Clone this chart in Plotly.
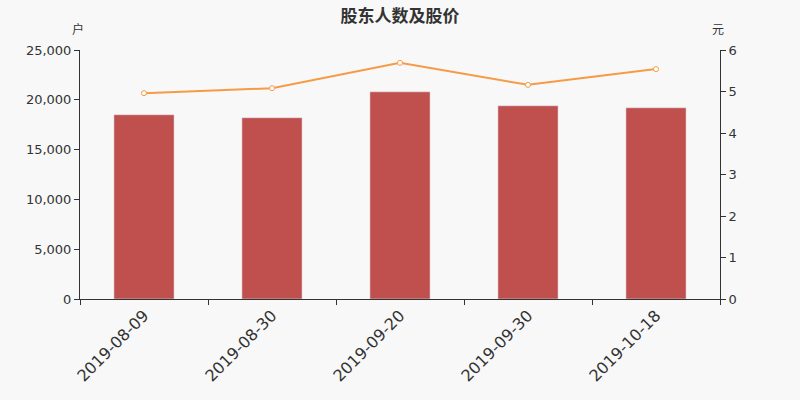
import plotly.graph_objects as go

dates = ["2019-08-09", "2019-08-30", "2019-09-20", "2019-09-30", "2019-10-18"]
holders = [18500, 18200, 20800, 19400, 19200]
price = [4.96, 5.08, 5.69, 5.16, 5.54]

FONT = "DejaVu Sans, Noto Sans CJK SC, sans-serif"
BG = "#f8f8f8"

fig = go.Figure()
fig.add_trace(go.Bar(x=dates, y=holders, marker_color="#c0504d", width=0.47,
                     name="股东人数", yaxis="y"))
fig.add_trace(go.Scatter(x=dates, y=price, mode="lines+markers", name="股价", yaxis="y2",
                         line=dict(color="#f79a45", width=2),
                         marker=dict(symbol="circle", size=5, color="white",
                                     line=dict(color="#f79a45", width=1))))

fig.update_layout(
    width=800, height=400,
    paper_bgcolor=BG, plot_bgcolor=BG,
    margin=dict(l=80, r=80, t=50, b=101, autoexpand=False),
    showlegend=False,
    font=dict(family=FONT, color="#333333", size=12),
    title=dict(text="<b>股东人数及股价</b>", x=0.5, xanchor="center", y=0.975, yanchor="top",
               font=dict(size=17, color="#333333", family="Noto Sans CJK SC")),
    xaxis=dict(type="category", tickangle=-45, tickson="boundaries", ticks="outside",
               ticklen=5, tickcolor="#333", showline=True, linecolor="#333", linewidth=1,
               showgrid=False, tickfont=dict(size=16, color="#333")),
    yaxis=dict(range=[0, 25000], dtick=5000, tickformat=",", showgrid=False,
               showline=True, linecolor="#333", ticks="outside", ticklen=5,
               tickcolor="#333", zeroline=False, tickfont=dict(size=13)),
    yaxis2=dict(range=[0, 6], dtick=1, overlaying="y", side="right", showgrid=False,
                showline=True, linecolor="#333", ticks="outside", ticklen=5,
                tickcolor="#333", zeroline=False, tickfont=dict(size=13)),
    annotations=[
        dict(text="户", xref="paper", yref="paper", x=-0.003, y=1.088, showarrow=False,
             xanchor="center", yanchor="middle", font=dict(size=12, family="Noto Sans CJK SC")),
        dict(text="元", xref="paper", yref="paper", x=0.997, y=1.088, showarrow=False,
             xanchor="center", yanchor="middle", font=dict(size=12, family="Noto Sans CJK SC")),
    ],
)

fig.write_html("out.html", config={"displayModeBar": False},
               post_script="document.body.style.margin='0';document.body.style.overflow='hidden';")
